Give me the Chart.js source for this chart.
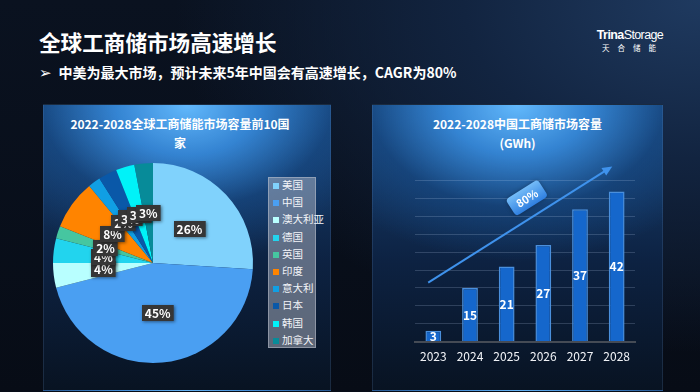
<!DOCTYPE html>
<html>
<head>
<meta charset="utf-8">
<script src="https://cdn.jsdelivr.net/npm/chart.js@4.4.1/dist/chart.umd.min.js"></script>
<style>
  html, body { margin: 0; padding: 0; }
  body {
    width: 700px; height: 392px; overflow: hidden; position: relative;
    font-family: "Noto Sans CJK SC", "Noto Sans", sans-serif; color: #fff;
    background:
      radial-gradient(ellipse 75% 90% at 100% 0%, #1f3a60 0%, #122440 45%, rgba(8,14,26,0) 100%),
      linear-gradient(180deg, #0a1220 0%, #070c16 100%);
  }
  .abs { position: absolute; }
  #title { left: 39px; top: 27px; font-size: 21.6px; font-weight: bold; line-height: 30px; }
  #subtitle { left: 39px; top: 61px; font-size: 14px; font-weight: bold; line-height: 22px; white-space: nowrap; }
  #subtitle .mark { font-family: "DejaVu Sans"; font-weight: normal; font-size: 15px; margin-right: 7px; }
  #logo { left: 594px; top: 28px; width: 72px; text-align: center; white-space: nowrap; }
  #logo .en { font-family: "Liberation Sans", sans-serif; font-size: 12.5px; line-height: 15px; letter-spacing: -0.6px; }
  #logo .cn { font-size: 7.5px; line-height: 10px; letter-spacing: 8px; margin-left: 6px; }
  .panel {
    top: 104px; height: 287px; border: 1px solid rgba(110,150,200,0.18); box-sizing: border-box;
    background:
      radial-gradient(ellipse 78% 55% at 50% 0%, rgba(98,184,252,1) 0%, rgba(54,136,216,0.94) 32%, rgba(24,78,140,0.6) 65%, rgba(12,30,60,0) 100%),
      linear-gradient(180deg, #184478 0%, #0d2242 55%, #081322 100%);
  }
  #panelL { left: 43px; width: 288px; }
  #panelR { left: 372px; width: 291px; }
  .ptitle { font-size: 12px; font-weight: bold; line-height: 19px; text-align: center; }
  #ptL { left: 43px; width: 274px; top: 114px; }
  #ptR { left: 372px; width: 291px; top: 114px; }
  #legend {
    left: 268px; top: 177px; width: 48px; height: 171px; box-sizing: border-box;
    background: rgba(175,182,195,0.5); border: 1px solid rgba(200,205,215,0.45);
  }
  #legend .item { position: absolute; left: 4px; font-size: 10.5px; line-height: 14px; color: #f2f4f8; white-space: nowrap; }
  #legend .sw { display: inline-block; width: 6px; height: 6px; margin-right: 3px; vertical-align: 0px; }
  #pie { left: 43px; top: 153px; width: 220px; height: 220px; }
  #bars { left: 372px; top: 150px; width: 291px; height: 230px; }
</style>
</head>
<body>
<div id="title" class="abs">全球工商储市场高速增长</div>
<div id="subtitle" class="abs"><span class="mark">➢</span>中美为最大市场，预计未来5年中国会有高速增长，CAGR为80%</div>
<div id="logo" class="abs">
  <div class="en"><b>Trina</b>Storage</div>
  <div class="cn">天合储能</div>
</div>

<div id="panelL" class="abs panel"></div>
<div id="panelR" class="abs panel"></div>
<div id="ptL" class="abs ptitle">2022-2028全球工商储能市场容量前10国<br>家</div>
<div id="ptR" class="abs ptitle">2022-2028中国工商储市场容量<br>(GWh)</div>
<div id="legend" class="abs"></div>

<div class="abs" id="pie"><canvas id="pieChart" width="220" height="220"></canvas></div>
<div class="abs" id="bars"><canvas id="barChart" width="291" height="230"></canvas></div>

<script>
// --- DATA ---
const COUNTRIES = ['美国','中国','澳大利亚','德国','英国','印度','意大利','日本','韩国','加拿大'];
const SHARES = [26, 45, 4, 4, 2, 8, 2, 3, 3, 3];
const COUNTRY_COLORS = ['#80d2fc','#4a9ff2','#b8ffff','#22d4ee','#46c6a0','#ff8400','#109fe4','#0a58a8','#00f2f8','#078b99'];

const YEARS = ['2023','2024','2025','2026','2027','2028'];
const CAPACITY = [3, 15, 21, 27, 37, 42];
const Y_MAX = 45, Y_STEP = 5;

// trend arrow, in data units (category index, GWh)
const TREND_FROM = [-0.14, 16.5];
const TREND_TO = [4.88, 49];
const TREND_LABEL = '80%';
const TREND_LABEL_AT = [2.55, 40.2];

const FONT = '"Noto Sans CJK SC", "Noto Sans", sans-serif';

// --- LEGEND ---
document.getElementById('legend').innerHTML = COUNTRIES.map((c, i) =>
  `<div class="item" style="top:${i * 17.2}px"><span class="sw" style="background:${COUNTRY_COLORS[i]}"></span>${c}</div>`
).join('');

// --- PLUGINS ---
const pieLabels = {
  id: 'pieLabels',
  afterDatasetsDraw(chart) {
    const ctx = chart.ctx;
    const meta = chart.getDatasetMeta(0);
    ctx.save();
    ctx.font = `bold 12px ${FONT}`;
    ctx.textAlign = 'center';
    ctx.textBaseline = 'middle';
    meta.data.forEach((arc, i) => {
      const p = arc.tooltipPosition();
      const txt = SHARES[i] + '%';
      const w = ctx.measureText(txt).width + 6, h = 16;
      ctx.shadowColor = 'rgba(0,0,0,0.45)';
      ctx.shadowBlur = 3; ctx.shadowOffsetX = 1; ctx.shadowOffsetY = 1;
      ctx.fillStyle = '#363636';
      ctx.fillRect(Math.round(p.x - w / 2), Math.round(p.y - h / 2), w, h);
      ctx.shadowColor = 'transparent';
      ctx.fillStyle = '#ffffff';
      ctx.fillText(txt, p.x, p.y + 0.5);
    });
    ctx.restore();
  }
};

const barExtras = {
  id: 'barExtras',
  afterDatasetsDraw(chart) {
    const ctx = chart.ctx;
    const x = chart.scales.x, y = chart.scales.y;
    const meta = chart.getDatasetMeta(0);
    ctx.save();
    // values inside bars
    ctx.font = `bold 12px ${FONT}`;
    ctx.textAlign = 'center';
    ctx.textBaseline = 'middle';
    ctx.fillStyle = '#ffffff';
    meta.data.forEach((bar, i) => {
      ctx.fillText(String(CAPACITY[i]), bar.x, (bar.y + bar.base) / 2 + 0.5);
    });

    // trend arrow
    const x0 = x.getPixelForValue(TREND_FROM[0]), y0 = y.getPixelForValue(TREND_FROM[1]);
    const x1 = x.getPixelForValue(TREND_TO[0]), y1 = y.getPixelForValue(TREND_TO[1]);
    const ang = Math.atan2(y1 - y0, x1 - x0);
    ctx.strokeStyle = '#3f92ec';
    ctx.fillStyle = '#3f92ec';
    ctx.lineWidth = 2;
    ctx.beginPath();
    ctx.moveTo(x0, y0);
    ctx.lineTo(x1 - 6 * Math.cos(ang), y1 - 6 * Math.sin(ang));
    ctx.stroke();
    ctx.beginPath();
    ctx.moveTo(x1, y1);
    ctx.lineTo(x1 - 10 * Math.cos(ang) + 4.5 * Math.sin(ang), y1 - 10 * Math.sin(ang) - 4.5 * Math.cos(ang));
    ctx.lineTo(x1 - 10 * Math.cos(ang) - 4.5 * Math.sin(ang), y1 - 10 * Math.sin(ang) + 4.5 * Math.cos(ang));
    ctx.closePath();
    ctx.fill();

    // rotated badge
    const bx = x.getPixelForValue(TREND_LABEL_AT[0]), by = y.getPixelForValue(TREND_LABEL_AT[1]);
    ctx.translate(bx, by);
    ctx.rotate(ang);
    const bw = 38, bh = 20;
    const g = ctx.createLinearGradient(0, -bh / 2, 0, bh / 2);
    g.addColorStop(0, '#74bcf8');
    g.addColorStop(1, '#2f7fe0');
    ctx.fillStyle = g;
    ctx.shadowColor = 'rgba(0,0,0,0.3)';
    ctx.shadowBlur = 4;
    ctx.beginPath();
    ctx.roundRect(-bw / 2, -bh / 2, bw, bh, 4);
    ctx.fill();
    ctx.shadowColor = 'transparent';
    ctx.fillStyle = '#ffffff';
    ctx.font = `bold 11px ${FONT}`;
    ctx.fillText(TREND_LABEL, 0, 0.5);
    ctx.restore();
  }
};

// --- CHARTS ---
new Chart(document.getElementById('pieChart'), {
  type: 'pie',
  data: {
    labels: COUNTRIES,
    datasets: [{ data: SHARES, backgroundColor: COUNTRY_COLORS, borderWidth: 0 }]
  },
  options: {
    responsive: false,
    animation: false,
    radius: 100,
    plugins: { legend: { display: false }, tooltip: { enabled: false } }
  },
  plugins: [pieLabels]
});

new Chart(document.getElementById('barChart'), {
  type: 'bar',
  data: {
    labels: YEARS,
    datasets: [{
      data: CAPACITY,
      backgroundColor: '#1567cc',
      borderColor: '#4a8fdc',
      borderWidth: 1.5,
      barPercentage: 0.43,
      categoryPercentage: 1
    }]
  },
  options: {
    responsive: false,
    animation: false,
    layout: { padding: { left: 43, right: 28, top: 30.7, bottom: 8 } },
    plugins: { legend: { display: false }, tooltip: { enabled: false } },
    scales: {
      x: {
        grid: { display: false, drawTicks: false },
        border: { display: true, color: '#454b55', width: 2 },
        ticks: { color: '#f2f4f8', padding: 8, font: { family: FONT, size: 12 } }
      },
      y: {
        min: 0, max: Y_MAX,
        ticks: { display: false, stepSize: Y_STEP },
        grid: { color: 'rgba(190,210,240,0.2)', lineWidth: 1, drawTicks: false, tickLength: 0 },
        border: { display: false }
      }
    }
  },
  plugins: [barExtras]
});
</script>
</body>
</html>
